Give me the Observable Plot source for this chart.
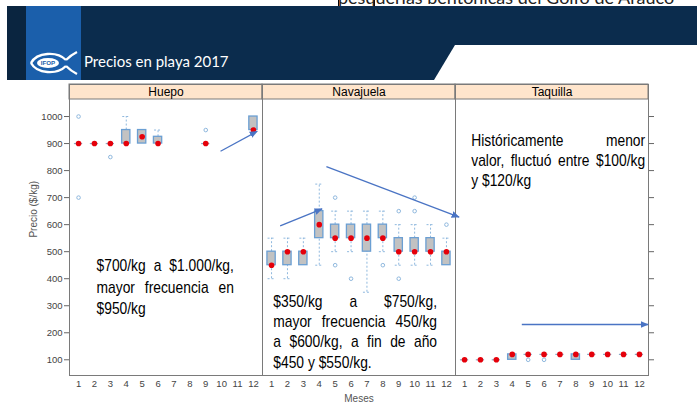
<!DOCTYPE html>
<html>
<head>
<meta charset="utf-8">
<script src="https://cdn.jsdelivr.net/npm/d3@7"></script>
<script src="https://cdn.jsdelivr.net/npm/@observablehq/plot@0.6"></script>
<style>
  html, body { margin: 0; padding: 0; background: #fff; }
  body { width: 697px; height: 409px; overflow: hidden; font-family: "Liberation Sans", Arial, sans-serif; }
  #header { position: relative; width: 697px; height: 80px; overflow: hidden; background: #fff; }
  #header .toptext { position: absolute; left: 338px; top: -12px; font: 18px Lato, "Open Sans", sans-serif; line-height: 18px; color: #222; white-space: nowrap; }
  #header .toptext span { box-shadow: inset 0 0 0 1px #000; }
  #header .band { position: absolute; left: 7px; top: 6px; width: 690px; height: 74px; background: #0b2c4d; }
  #header .cut { position: absolute; left: 0; top: 0; width: 697px; height: 80px; background: #fff;
                 clip-path: polygon(455px 45px, 697px 45px, 697px 80px, 434px 80px); }
  #header .leftdark { position: absolute; left: 7px; top: 6px; width: 19px; height: 74px; background: #0a2540; }
  #header .blue { position: absolute; left: 26px; top: 6px; width: 55px; height: 74px; background: #1b5fab; }
  #header svg.logo { position: absolute; left: 28px; top: 49px; }
  #header .title { position: absolute; left: 84px; top: 52px; font: 15px Lato, "Open Sans", sans-serif; color: #fff; white-space: nowrap; }
  #chart { width: 697px; height: 329px; }
</style>
</head>
<body>
<div id="header">
  <div class="toptext"><span>pesq</span>uerías bentónicas del Golfo de Arauco</div>
  <div class="band"></div>
  <div class="cut"></div>
  <div class="leftdark"></div>
  <div class="blue"></div>
  <svg class="logo" width="52" height="28" viewBox="0 0 52 28">
    <path d="M3,14 C9,3 29,2 38,11" stroke="#fff" stroke-width="2.4" fill="none"/>
    <path d="M3,14 C9,25 29,26 38,17" stroke="#fff" stroke-width="2.4" fill="none"/>
    <path d="M38,11 C41,8 45,5 49,3" stroke="#fff" stroke-width="2.4" fill="none"/>
    <path d="M38,17 C41,20 45,23 49,25" stroke="#fff" stroke-width="2.4" fill="none"/>
    <ellipse cx="20" cy="14" rx="11" ry="5" fill="#fff"/>
    <text x="20" y="16.3" font-size="6.2" font-weight="bold" fill="#1b5fab" text-anchor="middle" font-family="Liberation Sans, Arial, sans-serif">IFOP</text>
  </svg>
  <div class="title">Precios en playa 2017</div>
</div>
<div id="chart"></div>
<script>
// ---------- data ----------
const species = ["Huepo", "Navajuela", "Taquilla"];
const months = [1, 2, 3, 4, 5, 6, 7, 8, 9, 10, 11, 12];
const yTicks = [100, 200, 300, 400, 500, 600, 700, 800, 900, 1000];

// Huepo (null = no landings that month)
const huepoMedian = [900, 900, 900, 900, 925, 900, null, null, 900, null, null, 950];
const huepoQ1     = [900, 900, 900, 900, 900, 900, null, null, 900, null, null, 950];
const huepoQ3     = [900, 900, 900, 950, 950, 925, null, null, 900, null, null, 1000];
const huepoLow    = [900, 900, 900, 900, 900, 900, null, null, 900, null, null, 950];
const huepoHigh   = [900, 900, 900, 1000, 950, 950, null, null, 900, null, null, 1000];
const huepoOutliers = [[1, 1000], [1, 700], [3, 850], [9, 950]];

// Navajuela
const navMedian = [450, 500, 500, 600, 550, 550, 550, 550, 500, 500, 500, 500];
const navQ1     = [450, 450, 450, 550, 550, 550, 500, 550, 500, 500, 500, 450];
const navQ3     = [500, 500, 500, 650, 600, 600, 600, 600, 550, 550, 550, 500];
const navLow    = [400, 400, 450, 450, 500, 500, 350, 500, 450, 450, 450, 450];
const navHigh   = [550, 550, 550, 750, 650, 650, 650, 650, 600, 600, 600, 550];
const navOutliers = [[5, 700], [5, 450], [6, 400], [8, 450], [9, 650], [9, 400], [10, 700], [10, 650], [12, 600]];

// Taquilla
const taqMedian = [100, 100, 100, 120, 120, 120, 120, 120, 120, 120, 120, 120];
const taqQ1     = [100, 100, 100, 100, 120, 120, 120, 100, 120, 120, 120, 120];
const taqQ3     = [100, 100, 100, 120, 120, 120, 120, 120, 120, 120, 120, 120];
const taqLow    = [100, 100, 100, 100, 120, 120, 120, 100, 120, 120, 120, 120];
const taqHigh   = [100, 100, 100, 120, 120, 120, 120, 120, 120, 120, 120, 120];
const taqOutliers = [[5, 100], [6, 100]];

// annotation texts
const huepoNote = ["$700/kg a $1.000/kg,", "mayor frecuencia en", "$950/kg"];
const navNote = ["$350/kg a $750/kg,", "mayor frecuencia 450/kg", "a $600/kg, a fin de año", "$450 y $550/kg."];
const taqNote = ["Históricamente menor", "valor, fluctuó entre $100/kg", "y $120/kg"];

// annotation anchors in data units (month, price)
const noteAnchors = {
  Huepo:     {x: 2.13, xRight: 10.77, y: [427.8, 346.4, 270.2]},
  Navajuela: {x: 1.11, xRight: 11.41, y: [294.6, 220.6, 146.6, 70.4]},
  Taquilla:  {x: 1.42, xRight: 12.36, y: [892.8, 818.8, 744.8]}
};
const arrowAnchors = [
  {species: "Huepo",     x1: 9.93, y1: 871.7, x2: 12.24, y2: 945.7},
  {species: "Navajuela", x1: 1.54, y1: 595.2, x2: 4.18,  y2: 658.6},
  {species: "Navajuela", x1: 4.45, y1: 815.0, x2: 12.8,  y2: 627.6},
  {species: "Taquilla",  x1: 4.6,  y1: 230.6, x2: 12.55, y2: 230.6}
];

// ---------- tables ----------
const stats = {
  Huepo: [huepoMedian, huepoQ1, huepoQ3, huepoLow, huepoHigh, huepoOutliers],
  Navajuela: [navMedian, navQ1, navQ3, navLow, navHigh, navOutliers],
  Taquilla: [taqMedian, taqQ1, taqQ3, taqLow, taqHigh, taqOutliers]
};
const boxes = [];
const outliers = [];
for (const s of species) {
  const [med, q1, q3, lo, hi, out] = stats[s];
  months.forEach((m, i) => {
    if (med[i] == null) return;
    boxes.push({species: s, month: m, med: med[i], q1: q1[i], q3: q3[i], lo: lo[i], hi: hi[i]});
  });
  out.forEach(([m, v]) => outliers.push({species: s, month: m, value: v}));
}
const notes = [];
const noteTexts = {Huepo: huepoNote, Navajuela: navNote, Taquilla: taqNote};
for (const s of species) {
  const lines = noteTexts[s], a = noteAnchors[s];
  lines.forEach((t, i) => notes.push({species: s, text: t, x: a.x, xRight: a.xRight, y: a.y[i], justify: i < lines.length - 1}));
}

// ---------- chart ----------
const xDom = [0.43, 12.57];
const yDom = [41.9, 1118.5];
const stripBottom = 1063;
const BOX = 0.26, CAP = 0.22;
const boxStroke = "#6b9fd3", whisk = "#8fb8de", frameCol = "#7a7a7a";

const chart = Plot.plot({
  width: 697,
  height: 329,
  marginTop: 4,
  marginBottom: 34,
  marginLeft: 69,
  marginRight: 49,
  style: {fontFamily: "Liberation Sans, Arial, sans-serif", fontSize: "9.5px", background: "#fff"},
  fx: {domain: species, padding: 0, axis: null, label: null},
  x: {domain: xDom, axis: null},
  y: {domain: yDom, axis: null},
  marks: [
    // strip
    Plot.rect(species, {fx: d => d, x1: () => xDom[0], x2: () => xDom[1], y1: () => stripBottom, y2: () => yDom[1], fill: "#ffe5cc", stroke: frameCol}),
    Plot.frame({stroke: frameCol}),
    Plot.text(species, {fx: d => d, text: d => d, y: () => (stripBottom + yDom[1]) / 2, frameAnchor: "middle", fontSize: 12, fill: "#000"}),
    // whiskers
    Plot.ruleX(boxes.filter(d => d.hi > d.q3), {fx: "species", x: "month", y1: "q3", y2: "hi", stroke: whisk, strokeDasharray: "2,2"}),
    Plot.ruleX(boxes.filter(d => d.lo < d.q1), {fx: "species", x: "month", y1: "lo", y2: "q1", stroke: whisk, strokeDasharray: "2,2"}),
    Plot.ruleY(boxes.filter(d => d.hi > d.q3), {fx: "species", y: "hi", x1: d => d.month - CAP, x2: d => d.month + CAP, stroke: whisk, strokeDasharray: "2,2"}),
    Plot.ruleY(boxes.filter(d => d.lo < d.q1), {fx: "species", y: "lo", x1: d => d.month - CAP, x2: d => d.month + CAP, stroke: whisk, strokeDasharray: "2,2"}),
    // boxes
    Plot.rect(boxes.filter(d => d.q3 > d.q1), {fx: "species", x1: d => d.month - BOX, x2: d => d.month + BOX, y1: "q1", y2: "q3", fill: "#c2c2c2", stroke: boxStroke, strokeWidth: 1.3}),
    Plot.ruleY(boxes.filter(d => d.q3 === d.q1), {fx: "species", y: "q1", x1: d => d.month - BOX, x2: d => d.month + BOX, stroke: "#8aa9c6", strokeWidth: 1.2}),
    // outliers
    Plot.dot(outliers, {fx: "species", x: "month", y: "value", r: 1.8, stroke: whisk, strokeWidth: 1, fill: "none"}),
    // medians
    Plot.dot(boxes, {fx: "species", x: "month", y: "med", r: 2.8, fill: "#e5000a", stroke: "none"}),
    // arrows
    Plot.link(arrowAnchors, {fx: "species", x1: "x1", y1: "y1", x2: "x2", y2: "y2", stroke: "#4a74c4", strokeWidth: 1.3}),
    // notes
    Plot.text(notes, {fx: "species", x: "x", y: "y", text: "text", textAnchor: "start", lineAnchor: "bottom", fontSize: 16, fill: "#000", fontFamily: "Liberation Sans, Arial, sans-serif"}),
    // axes
    Plot.axisY(yTicks, {anchor: "left", tickSize: 5, tickPadding: 2, tickFormat: d => String(d), label: null, fill: "#444", stroke: "#666", fontSize: 9.5}),
    Plot.axisY(yTicks, {anchor: "right", tickSize: 5, tickFormat: () => "", label: null, stroke: "#666"}),
    Plot.axisX(months, {anchor: "bottom", tickSize: 0, tickPadding: 5, tickFormat: d => String(d), label: null, fill: "#444", fontSize: 9.5}),
    // axis titles
    Plot.text(["Meses"], {fx: () => "Navajuela", frameAnchor: "bottom", dy: 26, text: d => d, fontSize: 10, fill: "#555"}),
    Plot.text(["Precio ($/kg)"], {fx: () => "Huepo", y: () => 552, frameAnchor: "left", dx: -36, rotate: -90, text: d => d, fontSize: 10, fill: "#555"})
  ]
});
document.getElementById("chart").appendChild(chart);

// ---------- post: arrow heads and justified note text ----------
const ns = "http://www.w3.org/2000/svg";
const defs = document.createElementNS(ns, "defs");
const marker = document.createElementNS(ns, "marker");
marker.setAttribute("id", "arrowHead");
marker.setAttribute("viewBox", "0 0 8 8");
marker.setAttribute("refX", "7.5");
marker.setAttribute("refY", "4");
marker.setAttribute("markerWidth", "8");
marker.setAttribute("markerHeight", "8");
marker.setAttribute("markerUnits", "userSpaceOnUse");
marker.setAttribute("orient", "auto");
const head = document.createElementNS(ns, "path");
head.setAttribute("d", "M0,0.6L8,4L0,7.4Z");
head.setAttribute("fill", "#4a74c4");
marker.appendChild(head);
defs.appendChild(marker);
chart.insertBefore(defs, chart.firstChild);
chart.querySelectorAll('g[aria-label="link"] path').forEach(p => p.setAttribute("marker-end", "url(#arrowHead)"));

const xs = chart.scale("x");
const SX = 0.865;
const noteInfo = new Map(notes.map(n => [n.text, n]));
chart.querySelectorAll('g[aria-label="text"] text').forEach(el => {
  const info = noteInfo.get(el.textContent);
  if (!info) return;
  el.setAttribute("transform", (el.getAttribute("transform") || "") + ` scale(${SX},1)`);
  if (info.justify) {
    const target = (xs.apply(info.xRight) - xs.apply(info.x)) / SX;
    const w = el.getComputedTextLength();
    const n = (el.textContent.match(/ /g) || []).length;
    if (n) el.style.wordSpacing = ((target - w) / n) + "px";
  }
});
</script>
</body>
</html>
